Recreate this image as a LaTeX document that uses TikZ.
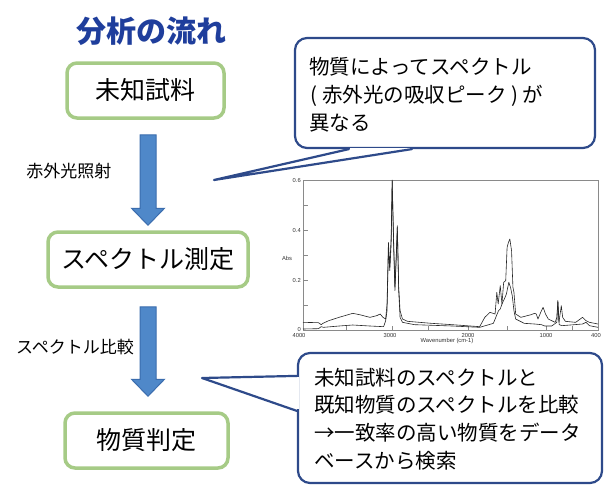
\documentclass[tikz,border=0pt]{standalone}
\usepackage{fontspec}
\newfontfamily\jp{Noto Sans CJK JP}
\setsansfont{Liberation Sans}
\usetikzlibrary{calc}
\definecolor{titleblue}{HTML}{1F3E9C}
\definecolor{boxgreen}{HTML}{A6CB86}
\definecolor{arrowfill}{HTML}{4F88C9}
\definecolor{arrowline}{HTML}{3B6DAE}
\definecolor{callline}{HTML}{2E4A8A}
\definecolor{framegray}{HTML}{8A8A8A}
\newcommand\blockarr[2]{%
  \draw[blockarrow] ($(#1)+(-8,0)$) -- ($(#1)+(8,0)$) -- ($(#2)+(8,-17)$) -- ($(#2)+(16.5,-17)$) -- (#2) -- ($(#2)+(-16.5,-17)$) -- ($(#2)+(-8,-17)$) -- cycle;}
\begin{document}
\begin{tikzpicture}[x=1pt,y=-1pt,
  titletext/.style={font=\jp\bfseries\fontsize{30}{36}\selectfont, text=titleblue, inner sep=0pt},
  stepbox/.style={draw=boxgreen, line width=3.5pt, rounded corners=10pt, fill=white, minimum height=55pt, inner sep=0pt, font=\jp\fontsize{25}{30}\selectfont},
  blockarrow/.style={fill=arrowfill, draw=arrowline, line width=1pt, line join=miter},
  sidelabel/.style={font=\jp\fontsize{17}{20}\selectfont, inner sep=0pt},
  callbox/.style={draw=callline, line width=2.2pt, fill=white, rounded corners=12pt, inner sep=0pt},
  tailline/.style={draw=callline, line width=2.2pt, line join=round, line cap=round},
  calltext/.style={font=\jp\fontsize{20.5}{27.8}\selectfont, align=left, inner sep=0pt, anchor=west},
  ticklab/.style={font=\sffamily\fontsize{5.8}{6.5}\selectfont, inner sep=0pt, text=black!80},
  spec/.style={line width=0.6pt, black!85, line join=round}
]
\useasboundingbox[fill=white] (0,0) rectangle (616,493);

% title
\node[titletext] (title) at (151,31) {分析の流れ};

% step boxes
\node[stepbox, minimum width=157pt] (b1) at (145.5,90.5) {未知試料};
\node[stepbox, minimum width=200pt] (b2) at (148,259.5) {スペクトル測定};
\node[stepbox, minimum width=163pt] (b3) at (146.5,440.5) {物質判定};

% block arrows
\coordinate (a1t) at ($(b1.south)+(2.5,15)$);
\coordinate (a1p) at ($(b2.north)+(0,-5)$);
\coordinate (a2t) at ($(b2.south)+(0,18)$);
\coordinate (a2p) at ($(b3.north)+(1.5,-15)$);
\blockarr{a1t}{a1p}
\blockarr{a2t}{a2p}

% side labels
\node[sidelabel] (l1) at (69,171) {赤外光照射};
\node[sidelabel] (l2) at (75,347) {スペクトル比較};

% spectrum chart
\begin{scope}[shift={(260.12,170.67)}, x=0.34302pt, y=-0.33333pt]
  \draw[framegray, line width=0.6pt] (125,28) rectangle (985,478);
  \foreach \yy in {103,178,253,328,403} \draw[framegray, line width=0.5pt] (125,\yy) -- (140,\yy);
  \foreach \xx in {250,385,490,608,720,835,910} \draw[framegray, line width=0.5pt] (\xx,478) -- (\xx,466);
  \draw[spec] (125,455) -- (170,456) -- (178,462) -- (183,458) -- (200,450) -- (230,440) -- (270,428) -- (290,432) -- (320,440) -- (340,435) -- (350,430) -- (358,440) -- (366,445) -- (370,400) -- (374,215) -- (378,290) -- (382,200) -- (385,28) -- (389,200) -- (393,350) -- (397,250) -- (400,165) -- (404,350) -- (408,420) -- (415,445) -- (430,452) -- (500,458) -- (560,462) -- (640,468) -- (655,440) -- (670,425) -- (685,430) -- (690,365) -- (694,400) -- (700,345) -- (705,400) -- (710,335) -- (716,330) -- (720,230) -- (724,215) -- (728,205) -- (733,240) -- (737,350) -- (740,365) -- (745,430) -- (760,440) -- (790,432) -- (800,428) -- (805,430) -- (810,445) -- (818,425) -- (825,410) -- (832,430) -- (840,445) -- (860,455) -- (865,440) -- (868,390) -- (871,455) -- (876,420) -- (878,405) -- (882,440) -- (890,452) -- (920,455) -- (940,440) -- (950,450) -- (960,455) -- (985,460);
  \draw[spec] (125,475) -- (170,474) -- (178,468) -- (185,470) -- (230,466) -- (270,463) -- (320,466) -- (360,468) -- (366,450) -- (370,420) -- (374,240) -- (378,300) -- (382,220) -- (385,30) -- (389,220) -- (393,360) -- (397,260) -- (400,170) -- (404,360) -- (408,440) -- (415,455) -- (450,462) -- (560,466) -- (640,470) -- (680,458) -- (695,420) -- (700,415) -- (705,400) -- (712,385) -- (718,370) -- (725,335) -- (730,350) -- (735,375) -- (740,420) -- (745,445) -- (770,458) -- (800,460) -- (820,462) -- (830,466) -- (850,466) -- (865,455) -- (868,390) -- (872,462) -- (880,465) -- (940,460) -- (950,455) -- (960,465) -- (985,470);
\end{scope}
\node[ticklab, anchor=east] (y6) at (301,180) {0.6};
\node[ticklab, anchor=east] (y4) at (301,230.7) {0.4};
\node[ticklab, anchor=east] (y2) at (301,280.7) {0.2};
\node[ticklab, anchor=east] (y0) at (301,329) {0};
\node[ticklab] (x4000) at (299,335) {4000};
\node[ticklab] (x3000) at (390,335) {3000};
\node[ticklab] (x2000) at (468,335) {2000};
\node[ticklab] (x1000) at (546,335) {1000};
\node[ticklab] (x400) at (596,335) {400};
\node[ticklab] (abs) at (287,258) {Abs};
\node[ticklab] (wn) at (447,341) {Wavenumber (cm-1)};

% callout 1
\node[callbox, minimum width=300pt, minimum height=110pt] (c1) at (445,93) {};
\coordinate (t1) at (214,180);
\fill[white] ($(c1.south west)+(56.5,-1.6)$) rectangle ($(c1.south west)+(116.5,1.6)$);
\fill[white] ($(c1.south west)+(55,0)$) -- (t1) -- ($(c1.south west)+(118,0)$) -- cycle;
\draw[tailline] ($(c1.south west)+(55,0)$) -- (t1) -- ($(c1.south west)+(118,0)$);
\node[calltext] (ct1) at ($(c1.west)+(15,2)$) {物質によってスペクトル\\\kern1pt(\kern5pt赤外光の吸収ピーク\kern5pt)\kern4pt が\\異なる};

% callout 2
\node[callbox, minimum width=304pt, minimum height=130pt] (c2) at (450,418) {};
\coordinate (t2) at (202,378);
\fill[white] ($(c2.north west)+(-1.6,25.5)$) rectangle ($(c2.north west)+(1.6,57.5)$);
\fill[white] ($(c2.north west)+(0,24)$) -- (t2) -- ($(c2.north west)+(0,59)$) -- cycle;
\draw[tailline] ($(c2.north west)+(0,24)$) -- (t2) -- ($(c2.north west)+(0,59)$);
\node[calltext] (ct2) at ($(c2.west)+(17,1)$) {未知試料のスペクトルと\\既知物質のスペクトルを比較\\→一致率の高い物質をデータ\\ベースから検索};
\end{tikzpicture}
\end{document}
